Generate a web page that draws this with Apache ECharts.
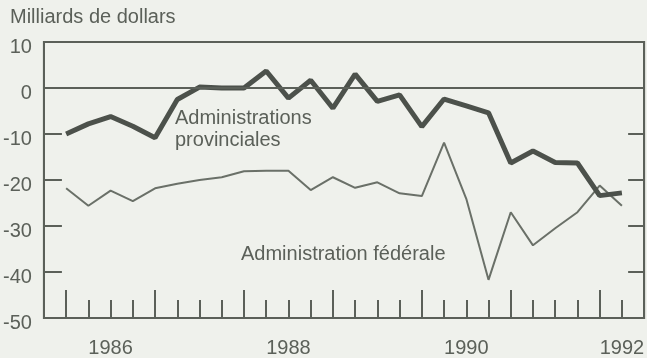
<!DOCTYPE html>
<html><head><meta charset="utf-8">
<script src="https://cdn.jsdelivr.net/npm/echarts@6/dist/echarts.min.js"></script>
<style>html,body{margin:0;padding:0;background:#eff1ec}#c{width:647px;height:358px}</style>
</head><body><div id="c"></div>
<script>
// Quarter index (1 = 1986 T1 ... 26 = 1992 T2)
const quarters = [1,2,3,4,5,6,7,8,9,10,11,12,13,14,15,16,17,18,19,20,21,22,23,24,25,26];
// Milliards de dollars
const provinciales = [-10.0,-7.8,-6.2,-8.3,-10.8,-2.5,0.2,0.0,0.0,3.7,-2.2,1.7,-4.4,3.0,-2.9,-1.5,-8.4,-2.4,-3.9,-5.4,-16.3,-13.7,-16.2,-16.3,-23.4,-22.8];
const federale = [-21.8,-25.6,-22.3,-24.6,-21.8,-20.8,-20.0,-19.4,-18.1,-18.0,-18.0,-22.2,-19.4,-21.7,-20.5,-22.9,-23.5,-11.9,-24.1,-41.7,-27.0,-34.2,-30.5,-27.0,-21.2,-25.6];
const yearLabels = ['1986','1988','1990','1992'];
const yearLabelPos = [3, 11, 19, 26];
const yearStartTicks = [1, 5, 9, 13, 17, 21, 25];
const yMin = -50, yMax = 10, yStep = 10;
const xMin = 0, xMax = 27;

const ink = '#5b6059';
const font = "'Liberation Sans', Arial, Helvetica, sans-serif";
const fs = 20;
const chart = echarts.init(document.getElementById('c'), null, {renderer: 'canvas'});
const tickStyle = {color: ink, width: 2};
const lineStyle = {color: ink, width: 2};
chart.setOption({
  backgroundColor: '#eff1ec',
  animation: false,
  grid: {left: 40, top: 42, width: 605, height: 279, show: true, borderColor: ink, borderWidth: 2, backgroundColor: 'transparent'},
  xAxis: [
    {type: 'value', min: xMin, max: xMax, interval: 1, position: 'bottom',
     axisLine: {show: true, onZero: false, lineStyle: lineStyle}, splitLine: {show: false},
     axisTick: {show: true, inside: true, length: 18, lineStyle: tickStyle},
     axisLabel: {show: false}},
    {type: 'value', min: xMin, max: xMax, position: 'bottom',
     axisLine: {show: false, onZero: false}, splitLine: {show: false},
     axisTick: {show: true, inside: true, length: 28, lineStyle: tickStyle, customValues: yearStartTicks},
     axisLabel: {show: true, customValues: yearLabelPos, margin: 20, color: ink, fontSize: fs, fontFamily: font,
       formatter: v => yearLabels[yearLabelPos.indexOf(v)] || ''}}
  ],
  yAxis: [
    {type: 'value', min: yMin, max: yMax, interval: yStep, position: 'left',
     axisLine: {show: true, onZero: false, lineStyle: lineStyle}, splitLine: {show: false},
     axisTick: {show: true, inside: true, length: 18, lineStyle: tickStyle},
     axisLabel: {show: true, margin: 12, color: ink, fontSize: fs, fontFamily: font, lineHeight: 11,
       formatter: v => '\n' + v}},
    {type: 'value', min: yMin, max: yMax, interval: yStep, position: 'right',
     axisLine: {show: true, onZero: false, lineStyle: lineStyle}, splitLine: {show: false},
     axisTick: {show: true, inside: true, length: 16, lineStyle: tickStyle},
     axisLabel: {show: false}}
  ],
  graphic: [
    {type: 'text', left: 10, top: 7, style: {text: 'Milliards de dollars', fill: ink, font: fs + 'px ' + font}},
    {type: 'text', left: 175, top: 107, style: {text: 'Administrations\nprovinciales', fill: ink, font: fs + 'px ' + font, lineHeight: 22}},
    {type: 'text', left: 241, top: 244, style: {text: 'Administration fédérale', fill: ink, font: fs + 'px ' + font}}
  ],
  series: [
    {type: 'line', name: 'Administration fédérale', data: quarters.map((q, i) => [q, federale[i]]),
     showSymbol: false, lineStyle: {color: '#6a7068', width: 2}},
    {type: 'line', name: 'Administrations provinciales', data: quarters.map((q, i) => [q, provinciales[i]]),
     showSymbol: false, lineStyle: {color: '#4c514b', width: 5},
     markLine: {silent: true, symbol: 'none', label: {show: false}, lineStyle: {color: ink, width: 2, type: 'solid'},
       data: [{yAxis: 0}]}}
  ]
});
</script></body></html>
